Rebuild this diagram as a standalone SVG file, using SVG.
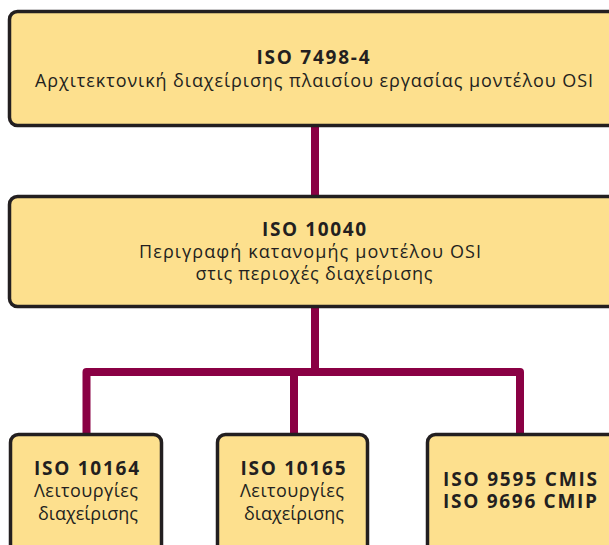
<svg xmlns="http://www.w3.org/2000/svg" width="609" height="545" viewBox="0 0 609 545">
<style>
.box{fill:#FDE08E;stroke:#231F20;stroke-width:3.5}
.c{fill:none;stroke:#8A0044;stroke-width:8;stroke-linejoin:round}
text{font-family:"Open Sans","Liberation Sans",sans-serif;fill:#231F20;text-anchor:middle;font-size:18px}
.b{font-weight:bold;font-size:19px}
</style>
<rect width="609" height="545" fill="#ffffff"/>
<g id="connectors">
<path class="c" d="M315 126V196"/>
<path class="c" d="M315 307V372"/>
<path class="c" d="M86.5 434V372H520V434"/>
<path class="c" d="M294 372V434"/>
</g>
<g id="n1">
<rect class="box" x="9.5" y="11.5" width="620" height="114" rx="8"/>
<text class="b" x="313" y="64" textLength="113" lengthAdjust="spacing">ISO 7498-4</text>
<text x="314" y="87" textLength="558" lengthAdjust="spacing">Αρχιτεκτονική διαχείρισης πλαισίου εργασίας μοντέλου OSI</text>
</g>
<g id="n2">
<rect class="box" x="9.5" y="196.5" width="620" height="110" rx="8"/>
<text class="b" x="314" y="236" textLength="104" lengthAdjust="spacing">ISO 10040</text>
<text x="310" y="258" textLength="342" lengthAdjust="spacing">Περιγραφή κατανομής μοντέλου OSI</text>
<text x="314" y="280" textLength="237" lengthAdjust="spacing">στις περιοχές διαχείρισης</text>
</g>
<g id="n3">
<rect class="box" x="10.5" y="434.5" width="151" height="130" rx="8"/>
<text class="b" x="86.5" y="475" textLength="105" lengthAdjust="spacing">ISO 10164</text>
<text x="86" y="497" textLength="104" lengthAdjust="spacing">Λειτουργίες</text>
<text x="88" y="520" textLength="100" lengthAdjust="spacing">διαχείρισης</text>
</g>
<g id="n4">
<rect class="box" x="217.5" y="434.5" width="150" height="130" rx="8"/>
<text class="b" x="293" y="475" textLength="105" lengthAdjust="spacing">ISO 10165</text>
<text x="292" y="497" textLength="104" lengthAdjust="spacing">Λειτουργίες</text>
<text x="294" y="520" textLength="100" lengthAdjust="spacing">διαχείρισης</text>
</g>
<g id="n5">
<rect class="box" x="427.5" y="434.5" width="200" height="130" rx="8"/>
<text class="b" x="520" y="486" textLength="154" lengthAdjust="spacing">ISO 9595 CMIS</text>
<text class="b" x="520" y="508" textLength="154" lengthAdjust="spacing">ISO 9696 CMIP</text>
</g>
</svg>
